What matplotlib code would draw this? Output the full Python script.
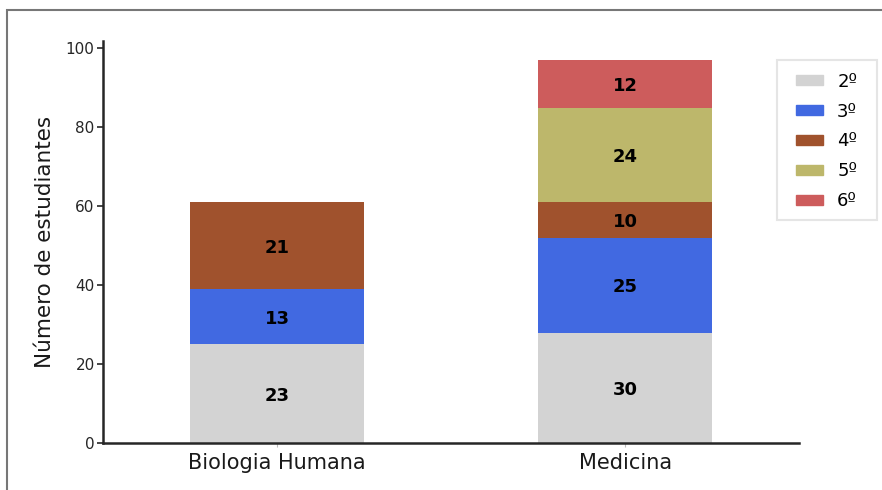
import matplotlib
matplotlib.use("Agg")
import matplotlib.pyplot as plt
from matplotlib.patches import Rectangle, Patch
import numpy as np

categories = ["Biologia Humana", "Medicina"]
series_names = ["2º", "3º", "4º", "5º", "6º"]
colors = ["#d3d3d3", "#4169e1", "#a0522d", "#bdb76b", "#cd5c5c"]
# segment heights (as drawn)
heights = {
    "2º": [25, 28],
    "3º": [14, 24],
    "4º": [22, 9],
    "5º": [0, 24],
    "6º": [0, 12],
}
# labels printed on the segments
labels = {
    "2º": [23, 30],
    "3º": [13, 25],
    "4º": [21, 10],
    "5º": [None, 24],
    "6º": [None, 12],
}

W, H = 882, 490
fig = plt.figure(figsize=(W / 100, H / 100), dpi=100)
ax = fig.add_axes([0.1168, 0.0959, 0.906 - 0.1168, 0.916 - 0.0959])

x = np.arange(len(categories))
bottom = np.zeros(len(categories))
for name, col in zip(series_names, colors):
    h = np.array(heights[name], dtype=float)
    ax.bar(x, h, width=0.5, bottom=bottom, color=col, label=name)
    for i, (hv, lab) in enumerate(zip(h, labels[name])):
        if lab is not None and hv > 0:
            ax.text(x[i], bottom[i] + hv / 2, str(lab), ha="center", va="center_baseline",
                    fontsize=13, fontweight="bold", color="black")
    bottom += h

ax.set_xlim(-0.5, 1.5)
ax.set_ylim(0, 101.85)
ax.set_xticks(x)
ax.set_xticklabels(categories, fontsize=15, color="#1a1a1a")
ax.set_yticks([0, 20, 40, 60, 80, 100])
ax.tick_params(axis="y", labelsize=11, length=4, width=1.2, color="#262626", labelcolor="#262626", pad=2)
ax.tick_params(axis="x", length=3, width=0.8, color="#bbbbbb", pad=4)
ax.set_ylabel("Número de estudiantes", fontsize=15.5, color="#1a1a1a", labelpad=7.5)

for s in ["top", "right"]:
    ax.spines[s].set_visible(False)
for s in ["left", "bottom"]:
    ax.spines[s].set_linewidth(1.8)
    ax.spines[s].set_color("#262626")

handles = [Patch(facecolor=c, edgecolor=c, label=n) for n, c in zip(series_names, colors)]
leg = fig.legend(handles=handles, loc="upper left",
                 bbox_to_anchor=(783 / W, 1 - 60 / H), bbox_transform=fig.transFigure,
                 borderaxespad=0, fontsize=13, frameon=False,
                 handlelength=1.5, handleheight=0.45, labelspacing=0.66,
                 borderpad=0.7, handletextpad=0.8)

# legend frame
frame = Rectangle((777 / W, 1 - 220 / H), 100 / W, 160 / H, transform=fig.transFigure,
                  fill=True, facecolor="white", edgecolor="#e5e5e5", linewidth=1.5, zorder=0)
fig.patches.append(frame)

border = Rectangle((7 / W, -0.5), 2.0, 0.5 + (1 - 10 / H), transform=fig.transFigure,
                   fill=False, edgecolor="#777777", linewidth=1.5, clip_on=False)
fig.patches.append(border)

fig.savefig("out.png", dpi=100)
